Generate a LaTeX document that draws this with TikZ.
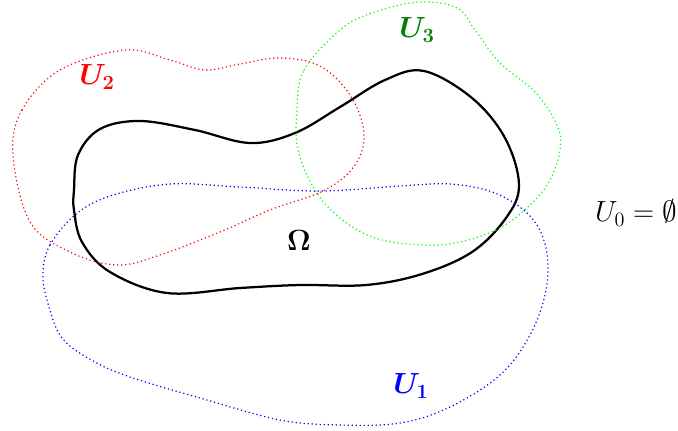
\documentclass[tikz,border=0pt]{standalone}
\usepackage{amsmath}
\usepackage{amssymb}
\usepackage{bm}
\usepackage{xcolor}
\usepackage{tikz}
\usetikzlibrary{positioning}

\begin{document}
\begin{tikzpicture}[x=0.025cm,y=-0.025cm,
   cover/.style={dotted,line width=0.85pt},
   lbl/.style={font=\fontsize{19.5}{24}\selectfont,inner sep=0pt}]
  \useasboundingbox (0,0) rectangle (678,430);
  % the domain
  \draw[line width=1.6pt] plot[smooth cycle,tension=0.6] coordinates {
    (74,190) (78,155) (100,129) (140,121) (195,130) (250,143) (295,133)
    (340,107) (385,80) (424,71) (472,98) (505,138) (519,185) (506,218)
    (472,252) (422,274) (366,285) (300,285) (240,288) (167,293) (110,272)
    (82,242) (74,210)};
  % the open sets
  \draw[cover,red] plot[smooth cycle,tension=0.6] coordinates {
    (13,155) (22,110) (60,70) (125,50) (170,60) (205,70) (240,64) (280,58)
    (320,66) (350,95) (364,133) (355,165) (325,190) (270,210) (220,232)
    (160,255) (117,265) (70,252) (30,222)};
  \draw[cover,green] plot[smooth cycle,tension=0.6] coordinates {
    (297,110) (304,70) (340,30) (372,13) (419,2) (457,8) (475,30) (500,63)
    (535,92) (557,125) (560,150) (550,180) (530,205) (500,228) (460,242)
    (422,245) (375,238) (340,218) (315,190) (298,150)};
  \draw[cover,blue] plot[smooth cycle,tension=0.6] coordinates {
    (43,272) (50,245) (75,215) (110,196) (170,184) (240,187) (320,191)
    (400,186) (450,184) (495,193) (530,216) (546,248) (546,290) (530,335)
    (500,375) (450,407) (400,423) (340,425) (280,420) (200,398) (133,378)
    (95,362) (62,338) (47,300)};
  % labels
  \node[lbl,red] (u2) at (97,77) {$\bm{U_2}$};
  \node[lbl,green!50!black] (u3) at (417,30) {$\bm{U_3}$};
  \node[lbl,blue] (u1) at (411,386) {$\bm{U_1}$};
  \node[lbl] (om) at (299,240) {$\bm{\Omega}$};
  \node[font=\huge,inner sep=0pt] (u0) at (636,213) {$U_0=\emptyset$};
\end{tikzpicture}
\end{document}
